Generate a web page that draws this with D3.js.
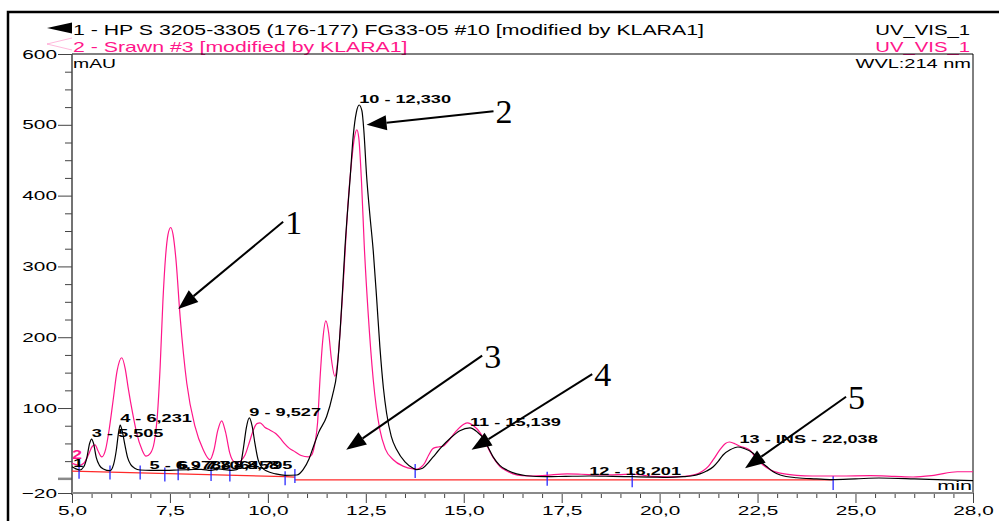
<!DOCTYPE html>
<html>
<head>
<meta charset="utf-8">
<script src="https://cdn.jsdelivr.net/npm/d3@7/dist/d3.min.js"></script>
<style>
  body { margin: 0; background: #fff; }
  svg { display: block; font-family: "Liberation Sans", Arial, sans-serif; }
</style>
</head>
<body>
<svg id="chart" width="999" height="521"></svg>
<script>
// trace 1 (black) : [min, mAU]
const blackTrace = [
  [5.00,17],[5.10,14],[5.20,12.5],[5.30,17],[5.38,30],[5.45,50],[5.50,56],[5.55,50],[5.62,30],
  [5.70,19],[5.80,14],[5.97,11.5],[6.06,20],[6.13,40],[6.19,66],[6.23,76],[6.28,68],[6.35,48],
  [6.42,30],[6.50,20],[6.60,15],[6.74,12.5],[7.00,12],[7.40,12],[7.70,12.5],[8.00,13],[8.30,13.5],
  [8.55,12],[8.75,14],[8.90,13],[9.05,12],[9.20,13],[9.30,20],[9.38,45],[9.45,72],[9.527,86],
  [9.60,74],[9.67,50],[9.75,27],[9.85,16],[9.97,11],[10.20,7],[10.44,5],[10.74,5.4],[10.90,13],
  [11.05,28],[11.16,45],[11.30,66],[11.50,88],[11.65,118],[11.76,150],[11.84,205],[11.89,250],
  [11.97,328],[12.10,425],[12.18,485],[12.26,518],[12.33,528],[12.40,520],[12.45,492],[12.52,428],
  [12.60,375],[12.69,322],[12.78,252],[12.86,186],[12.95,128],[13.03,93],[13.15,60],[13.29,41],
  [13.50,24],[13.71,15],[13.80,13],[13.95,15],[14.10,23],[14.22,31],[14.45,46],[14.65,57],
  [14.90,68],[15.16,72],[15.35,66],[15.49,58],[15.62,45],[15.75,31],[15.92,19],[16.10,12.5],
  [16.35,7],[16.60,4.4],[17.10,3],[17.60,3.5],[18.20,4],[18.80,3.5],[19.30,3],[19.80,2.5],
  [20.20,2],[20.60,3],[20.80,4],[21.03,7],[21.20,11],[21.37,17],[21.50,25],[21.62,33.7],
  [21.80,41],[22.00,45],[22.15,43],[22.38,36.5],[22.55,26],[22.74,17],[22.90,10],[23.08,5.4],
  [23.50,1.5],[24.00,0],[24.40,-1],[25.00,0],[25.60,1.2],[26.50,0],[27.30,-1.5],[28.00,-2.6]
];

// trace 2 (pink)
const pinkTrace = [
  [5.00,22],[5.10,20],[5.18,19],[5.30,22],[5.42,34],[5.52,46],[5.59,48],[5.66,40],[5.76,31],
  [5.86,42],[5.95,70],[6.05,111],[6.15,152],[6.27,171],[6.36,155],[6.43,130],[6.55,92],[6.65,65],
  [6.78,42],[6.89,32],[7.00,36],[7.10,52],[7.18,90],[7.25,158],[7.32,250],[7.39,315],[7.45,345],
  [7.52,355],[7.58,345],[7.65,312],[7.76,229],[7.93,135],[8.14,74],[8.35,41],[8.52,27],[8.62,40],
  [8.72,68],[8.82,82],[8.92,66],[9.03,36],[9.12,25],[9.22,23],[9.32,26],[9.42,34],[9.53,52],
  [9.63,69],[9.72,78],[9.80,79],[9.92,73],[10.05,69],[10.20,64],[10.32,57],[10.42,50],[10.55,43],
  [10.70,38],[10.85,33],[11.03,31],[11.12,34],[11.20,50],[11.27,80],[11.33,140],[11.40,195],
  [11.48,223],[11.55,207],[11.62,170],[11.71,145],[11.78,165],[11.86,220],[11.95,300],[12.04,385],
  [12.14,450],[12.22,485],[12.27,493],[12.32,482],[12.39,420],[12.46,330],[12.56,234],[12.69,140],
  [12.86,69],[13.00,42],[13.20,27],[13.45,18],[13.71,14],[13.80,13.5],[13.90,16],[14.00,22],
  [14.10,33],[14.22,43],[14.35,45],[14.47,46],[14.60,53],[14.80,67],[15.00,77],[15.10,79],
  [15.25,75],[15.42,65],[15.55,52],[15.67,38],[15.80,26],[15.93,17],[16.10,11],[16.26,7],
  [16.50,4.5],[16.77,4],[17.10,5],[17.64,7],[18.00,6.5],[18.48,5.5],[19.00,6],[19.32,6.5],
  [19.60,5],[19.80,3.5],[20.20,2.8],[20.50,3],[20.78,4.5],[21.00,8],[21.10,11],[21.25,18],
  [21.37,27],[21.55,42],[21.68,50],[21.78,52],[21.90,50],[22.05,46],[22.30,40.7],[22.45,30],
  [22.64,19.5],[22.85,12],[23.08,8],[23.50,5],[23.90,4],[24.60,4],[25.37,4.5],[26.00,3.5],
  [26.47,2.6],[27.00,5],[27.60,10],[28.00,10]
];

// integration baselines (red)
const baselines = [
  [[5.00,11],[10.44,3],[10.69,2.5]],
  [[10.69,-1.6],[24.43,-1.6]]
];

// peak delimiters (blue)
const delimTime = [5.18, 5.97, 6.74, 7.37, 7.71, 8.55, 9.03, 10.44, 10.69, 13.76, 17.13, 19.30, 24.43];
const delimMau  = [10, 9, 9, 6, 8, 7, 6, 1, 4, 11, 0, -2, -6];

// peak labels of trace 1
const peakText = ['1', '3 - 5,505', '4 - 6,231', '5 - 6,978', '6 - 7,706', '7 - 8,458', '8 - 8,795',
  '9 - 9,527', '10 - 12,330', '11 - 15,139', '12 - 18,201', '13 - INS - 22,038'];
const peakTime = [5.03, 5.505, 6.231, 6.978, 7.706, 8.458, 8.795, 9.527, 12.33, 15.16, 18.201, 22.038];
const peakLabelMau = [16.7, 59, 80, 14, 14, 14, 14, 89, 531, 75, 5.4, 50];

// numbered arrows: tail and tip in [min, mAU]
const arrowNames = ['1', '2', '3', '4', '5'];
const arrowTail = [[10.39,363],[15.76,519],[15.47,174],[18.28,148],[24.76,116]];
const arrowTip  = [[7.71,240],[12.52,500],[12.00,41],[15.20,41],[22.18,15]];

const xTicks = [5, 7.5, 10, 12.5, 15, 17.5, 20, 22.5, 25, 28];
const yTicks = [-20, 100, 200, 300, 400, 500, 600];

const header1 = '1 - HP S 3205-3305 (176-177) FG33-05 #10 [modified by KLARA1]';
const header2 = '2 - Srawn #3 [modified by KLARA1]';
const channel = 'UV_VIS_1';

const PINK = '#ff168a';

const svg = d3.select('#chart');

const xScale = d3.scaleLinear().domain([5, 28]).range([72, 973]);
const yScale = d3.scaleLinear().domain([-20, 600]).range([493, 54]);

const comma = d => d3.format('.1f')(d).replace('.', ',');

// outer frame
svg.append('path')
  .attr('d', 'M8,521 L8,12 L999,12')
  .attr('fill', 'none')
  .attr('stroke', '#000')
  .attr('stroke-width', 2.5);

// stretched text helper (chromeleon prints wide glyphs)
function wide(sel, x, y, k) {
  sel.attr('transform', `translate(${x},${y}) scale(${k},1)`);
  return sel;
}

// header
svg.append('path')
  .attr('d', 'M47,28 L72,22.5 L72,33.5 Z')
  .attr('fill', '#000');
svg.append('path')
  .attr('d', 'M72,38 L47,44 L72,50')
  .attr('fill', 'none')
  .attr('stroke', PINK)
  .attr('stroke-opacity', 0.3);

wide(svg.append('text').text(header1).attr('font-size', 14).attr('fill', '#000'), 73, 35, 1.52);
wide(svg.append('text').text(header2).attr('font-size', 14).attr('fill', PINK), 73, 52, 1.52);
wide(svg.append('text').text(channel).attr('font-size', 14).attr('text-anchor', 'end'), 970, 35, 1.45);
wide(svg.append('text').text(channel).attr('font-size', 14).attr('text-anchor', 'end').attr('fill', PINK), 970, 52, 1.45);

// plot frame
svg.append('path')
  .attr('d', `M${xScale(5)},${yScale(600)} L${xScale(28)},${yScale(600)} L${xScale(28)},${yScale(-20)}`)
  .attr('fill', 'none')
  .attr('stroke', '#000')
  .attr('stroke-width', 1);

wide(svg.append('text').text('mAU').attr('font-size', 12.5), xScale(5) + 1, 68, 1.55);
wide(svg.append('text').text('WVL:214 nm').attr('font-size', 12.5).attr('text-anchor', 'end'), xScale(28) - 2, 68, 1.6);
wide(svg.append('text').text('min').attr('font-size', 13.5).attr('text-anchor', 'end'), xScale(28) - 1, 490, 1.6);

// y axis
const yMinor = d3.range(0, 600, 25).filter(v => !yTicks.includes(v));
svg.append('g')
  .attr('transform', `translate(${xScale(5)},0)`)
  .call(d3.axisLeft(yScale).tickValues(yMinor).tickSize(7).tickFormat(''))
  .call(g => g.select('.domain').remove())
  .call(g => g.selectAll('.tick line').attr('stroke', '#444'));

const yAxisG = svg.append('g')
  .attr('transform', `translate(${xScale(5)},0)`)
  .call(d3.axisLeft(yScale).tickValues(yTicks).tickSize(14).tickFormat(d3.format('d')))
  .call(g => g.select('.domain').remove());
yAxisG.selectAll('.tick line').attr('stroke', '#444');
yAxisG.selectAll('.tick text')
  .attr('x', 0)
  .attr('font-size', 13)
  .attr('fill', '#000')
  .attr('font-family', '"Liberation Sans", Arial, sans-serif')
  .attr('transform', 'translate(-15,0) scale(1.6,1)');

// zero reference tick
svg.append('line')
  .attr('x1', xScale(5) - 14).attr('x2', xScale(5))
  .attr('y1', yScale(0)).attr('y2', yScale(0))
  .attr('stroke', '#8a8a8a').attr('stroke-width', 2.5);

svg.append('line')
  .attr('x1', xScale(5)).attr('x2', xScale(5))
  .attr('y1', yScale(600)).attr('y2', yScale(-20) + 2)
  .attr('stroke', '#444').attr('stroke-width', 1.5);

// x axis
const xMinor = d3.range(5.5, 28, 0.5).filter(v => !xTicks.includes(v));
svg.append('g')
  .attr('transform', `translate(0,${yScale(-20)})`)
  .call(d3.axisBottom(xScale).tickValues(xMinor).tickSize(5).tickFormat(''))
  .call(g => g.select('.domain').remove())
  .call(g => g.selectAll('.tick line').attr('stroke', '#444'));

const xAxisG = svg.append('g')
  .attr('transform', `translate(0,${yScale(-20)})`)
  .call(d3.axisBottom(xScale).tickValues(xTicks).tickSize(10).tickFormat(comma))
  .call(g => g.select('.domain').remove());
xAxisG.selectAll('.tick line').attr('stroke', '#444');
xAxisG.selectAll('.tick text')
  .attr('y', 0).attr('dy', null)
  .attr('font-size', 13)
  .attr('fill', '#000')
  .attr('font-family', '"Liberation Sans", Arial, sans-serif')
  .attr('transform', 'translate(0,22) scale(1.6,1)');

svg.append('line')
  .attr('x1', xScale(5)).attr('x2', xScale(28))
  .attr('y1', yScale(-20)).attr('y2', yScale(-20))
  .attr('stroke', '#8a8a8a').attr('stroke-width', 2);

// baselines
const lineGen = d3.line()
  .x(d => xScale(d[0]))
  .y(d => yScale(d[1]));

svg.selectAll('.baseline')
  .data(baselines)
  .join('path')
  .attr('class', 'baseline')
  .attr('d', lineGen)
  .attr('fill', 'none')
  .attr('stroke', '#ff2a2a')
  .attr('stroke-width', 1.2);

// delimiters
svg.selectAll('.delim')
  .data(delimTime)
  .join('line')
  .attr('class', 'delim')
  .attr('x1', d => xScale(d)).attr('x2', d => xScale(d))
  .attr('y1', (d, i) => yScale(delimMau[i]) - 7)
  .attr('y2', (d, i) => yScale(delimMau[i]) + 7)
  .attr('stroke', '#2a2aff')
  .attr('stroke-width', 1.3);

// traces
const traceGen = d3.line()
  .x(d => xScale(d[0]))
  .y(d => yScale(d[1]))
  .curve(d3.curveMonotoneX);

svg.append('path')
  .attr('d', traceGen(pinkTrace))
  .attr('fill', 'none')
  .attr('stroke', PINK)
  .attr('stroke-width', 1.2);

svg.append('path')
  .attr('d', traceGen(blackTrace))
  .attr('fill', 'none')
  .attr('stroke', '#000')
  .attr('stroke-width', 1.2);

// trace number at start
wide(svg.append('text').text('2').attr('font-size', 12).attr('font-weight', 'bold').attr('fill', PINK),
  xScale(5), yScale(28), 1.5);

// peak labels
svg.selectAll('.peak')
  .data(peakText)
  .join('text')
  .attr('class', 'peak')
  .attr('font-size', 11.8)
  .attr('font-weight', 'bold')
  .attr('fill', '#000')
  .text(d => d)
  .attr('transform', (d, i) => `translate(${xScale(peakTime[i])},${yScale(peakLabelMau[i])}) scale(1.54,1)`);

// arrows
const HEAD_L = 20, HEAD_W = 7.5;
arrowNames.forEach((name, i) => {
  const x1 = xScale(arrowTail[i][0]), y1 = yScale(arrowTail[i][1]);
  const x2 = xScale(arrowTip[i][0]), y2 = yScale(arrowTip[i][1]);
  const a = Math.atan2(y2 - y1, x2 - x1);
  const bx = x2 - HEAD_L * Math.cos(a), by = y2 - HEAD_L * Math.sin(a);
  svg.append('line')
    .attr('x1', x1).attr('y1', y1)
    .attr('x2', bx).attr('y2', by)
    .attr('stroke', '#000')
    .attr('stroke-width', 2);
  svg.append('path')
    .attr('d', `M${x2},${y2} L${bx + HEAD_W * Math.sin(a)},${by - HEAD_W * Math.cos(a)} L${bx - HEAD_W * Math.sin(a)},${by + HEAD_W * Math.cos(a)} Z`)
    .attr('fill', '#000');
  svg.append('text')
    .attr('x', x1 + 2)
    .attr('y', y1 + 12)
    .attr('font-family', '"Liberation Serif", "Times New Roman", serif')
    .attr('font-size', 34)
    .attr('fill', '#000')
    .text(name);
});
</script>
</body>
</html>
